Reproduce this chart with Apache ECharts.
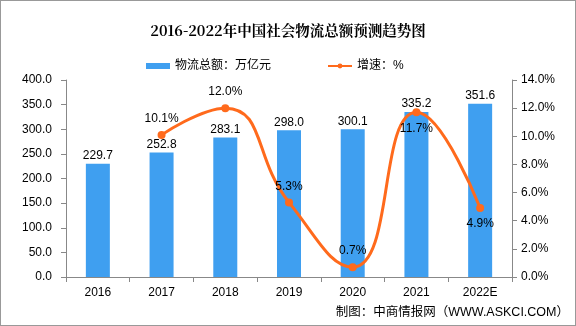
<!DOCTYPE html>
<html><head><meta charset="utf-8">
<script src="https://cdn.jsdelivr.net/npm/echarts@6/dist/echarts.min.js"></script>
<style>
html,body{margin:0;padding:0;background:#fff;}
#c{width:576px;height:326px;box-sizing:border-box;border:1px solid #999;}
</style></head>
<body><div id="c"></div>
<script>
const categories = ['2016','2017','2018','2019','2020','2021','2022E'];
const totalValues = [229.7, 252.8, 283.1, 298.0, 300.1, 335.2, 351.6];
const growthValues = ['-', 10.1, 12.0, 5.3, 0.7, 11.7, 4.9];
const growthLabelPos = ['top','top','top','top','top','bottom','bottom'];
const leftTicks = {min:0, max:400, interval:50};
const rightTicks = {min:0, max:14, interval:2};

const FONT = "'Liberation Sans','Noto Sans CJK SC',sans-serif";
const chart = echarts.init(document.getElementById('c'));
chart.setOption({
  animation:false,
  backgroundColor:'#fff',
  title:{text:'2016-2022年中国社会物流总额预测趋势图', left:'center', top:17,
    textStyle:{fontFamily:"'Noto Serif CJK SC','Noto Sans CJK SC',serif", fontSize:14.5, fontWeight:'bold', color:'#000'}},
  legend:{top:54, left:140, itemGap:56, itemWidth:24, itemHeight:6,
    textStyle:{fontFamily:FONT, fontSize:12, color:'#000'},
    data:[{name:'物流总额：万亿元', icon:'rect'},{name:'增速：%'}]},
  grid:{left:65, right:63, top:79, bottom:48},
  xAxis:{type:'category', data:categories,
    axisLine:{lineStyle:{color:'#888'}},
    axisTick:{show:true, alignWithLabel:false, lineStyle:{color:'#888'}},
    axisLabel:{fontFamily:FONT, fontSize:12, color:'#000', margin:10}},
  yAxis:[
    {type:'value', min:leftTicks.min, max:leftTicks.max, interval:leftTicks.interval,
     axisLine:{show:true, lineStyle:{color:'#888'}}, axisTick:{show:true, lineStyle:{color:'#888'}},
     splitLine:{show:false},
     axisLabel:{fontFamily:FONT, fontSize:12, color:'#000', margin:14, formatter:v=>v.toFixed(1)}},
    {type:'value', min:rightTicks.min, max:rightTicks.max, interval:rightTicks.interval,
     axisLine:{show:true, lineStyle:{color:'#888'}}, axisTick:{show:true, lineStyle:{color:'#888'}},
     splitLine:{show:false},
     axisLabel:{fontFamily:FONT, fontSize:12, color:'#000', margin:9, formatter:v=>v.toFixed(1)+'%'}}
  ],
  series:[
    {name:'物流总额：万亿元', type:'bar', data:totalValues, barWidth:24,
     itemStyle:{color:'#3F9FF0'},
     label:{show:true, position:'top', distance:2, fontFamily:FONT, fontSize:12, color:'#000',
       formatter:p=>p.value.toFixed(1)}},
    {name:'增速：%', type:'line', yAxisIndex:1, smooth:0.5, connectNulls:false,
     data:growthValues.map((v,i)=>({value:v, label:{position:growthLabelPos[i]}})),
     symbol:'circle', symbolSize:8,
     lineStyle:{color:'#FF6A1C', width:3}, itemStyle:{color:'#FF6A1C'},
     label:{show:true, distance:6, fontFamily:FONT, fontSize:12, color:'#000',
       formatter:p=>Number(p.value).toFixed(1)+'%'}}
  ],
  graphic:[{type:'text', right:6, top:305,
    style:{text:'制图：中商情报网（WWW.ASKCI.COM）', fontFamily:FONT, fontSize:12.5, fill:'#000'}}]
});
</script></body></html>
